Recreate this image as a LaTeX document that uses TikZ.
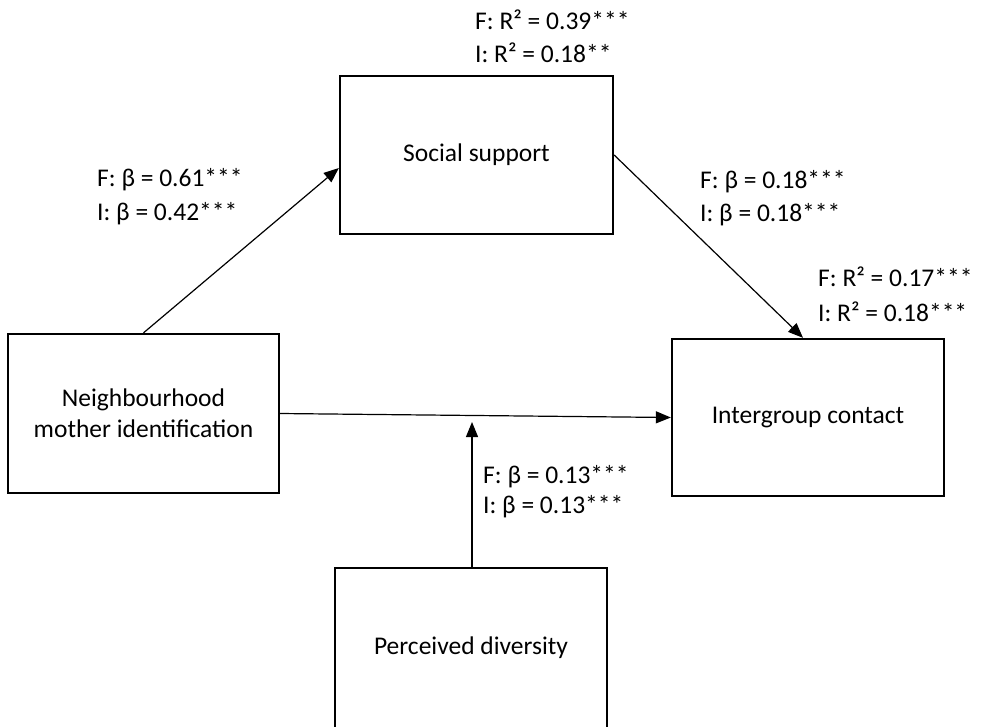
\documentclass[tikz,border=0pt]{standalone}
\usepackage{fontspec}
\setmainfont{Carlito}
\usetikzlibrary{arrows.meta}
\begin{document}
\begin{tikzpicture}[x=1pt,y=-1pt,
  box/.style={draw, line width=2.3pt, minimum width=#1, inner sep=0pt, align=center,
    font=\fontsize{25.5}{31}\selectfont},
  conn/.style={line width=1.2pt, -{Triangle[length=15pt,width=12pt]}},
  lab/.style={anchor=base west, inner sep=0pt, font=\fontsize{25.5}{31}\selectfont}]
\useasboundingbox (0,0) rectangle (981,726);
\begin{scope}
\clip (0,0) rectangle (981,726);
\node[box=271pt, minimum height=159pt] (nb) at (143.5,413.5) {Neighbourhood\\mother identification};
\node[box=273pt, minimum height=158pt] (ss) at (476.5,155) {Social support};
\node[box=272pt, minimum height=157pt] (ic) at (808,417.5) {Intergroup contact};
\node[box=272pt, minimum height=160pt] (pd) at (471,648) {Perceived diversity};
\end{scope}
\coordinate (mid) at (472,422);
\draw[conn] (nb.north) -- ([yshift=-13pt]ss.west);
\draw[conn] (ss.east) -- ([xshift=-5pt]ic.north);
\draw[conn] (nb.east) -- (ic.west);
\draw[conn] (pd.north -| mid) -- (mid);
\node[lab] (r1) at (475,29) {F: R² = 0.39***};
\node[lab] (r2) at (475,62) {I: R² = 0.18**};
\node[lab] (a1) at (97,186) {F: β = 0.61***};
\node[lab] (a2) at (97,220) {I: β = 0.42***};
\node[lab] (b1) at (700,188) {F: β = 0.18***};
\node[lab] (b2) at (700,221) {I: β = 0.18***};
\node[lab] (c1) at (818,286) {F: R² = 0.17***};
\node[lab] (c2) at (818,321) {I: R² = 0.18***};
\node[lab] (d1) at (483,483) {F: β = 0.13***};
\node[lab] (d2) at (483,513) {I: β = 0.13***};
\end{tikzpicture}
\end{document}
